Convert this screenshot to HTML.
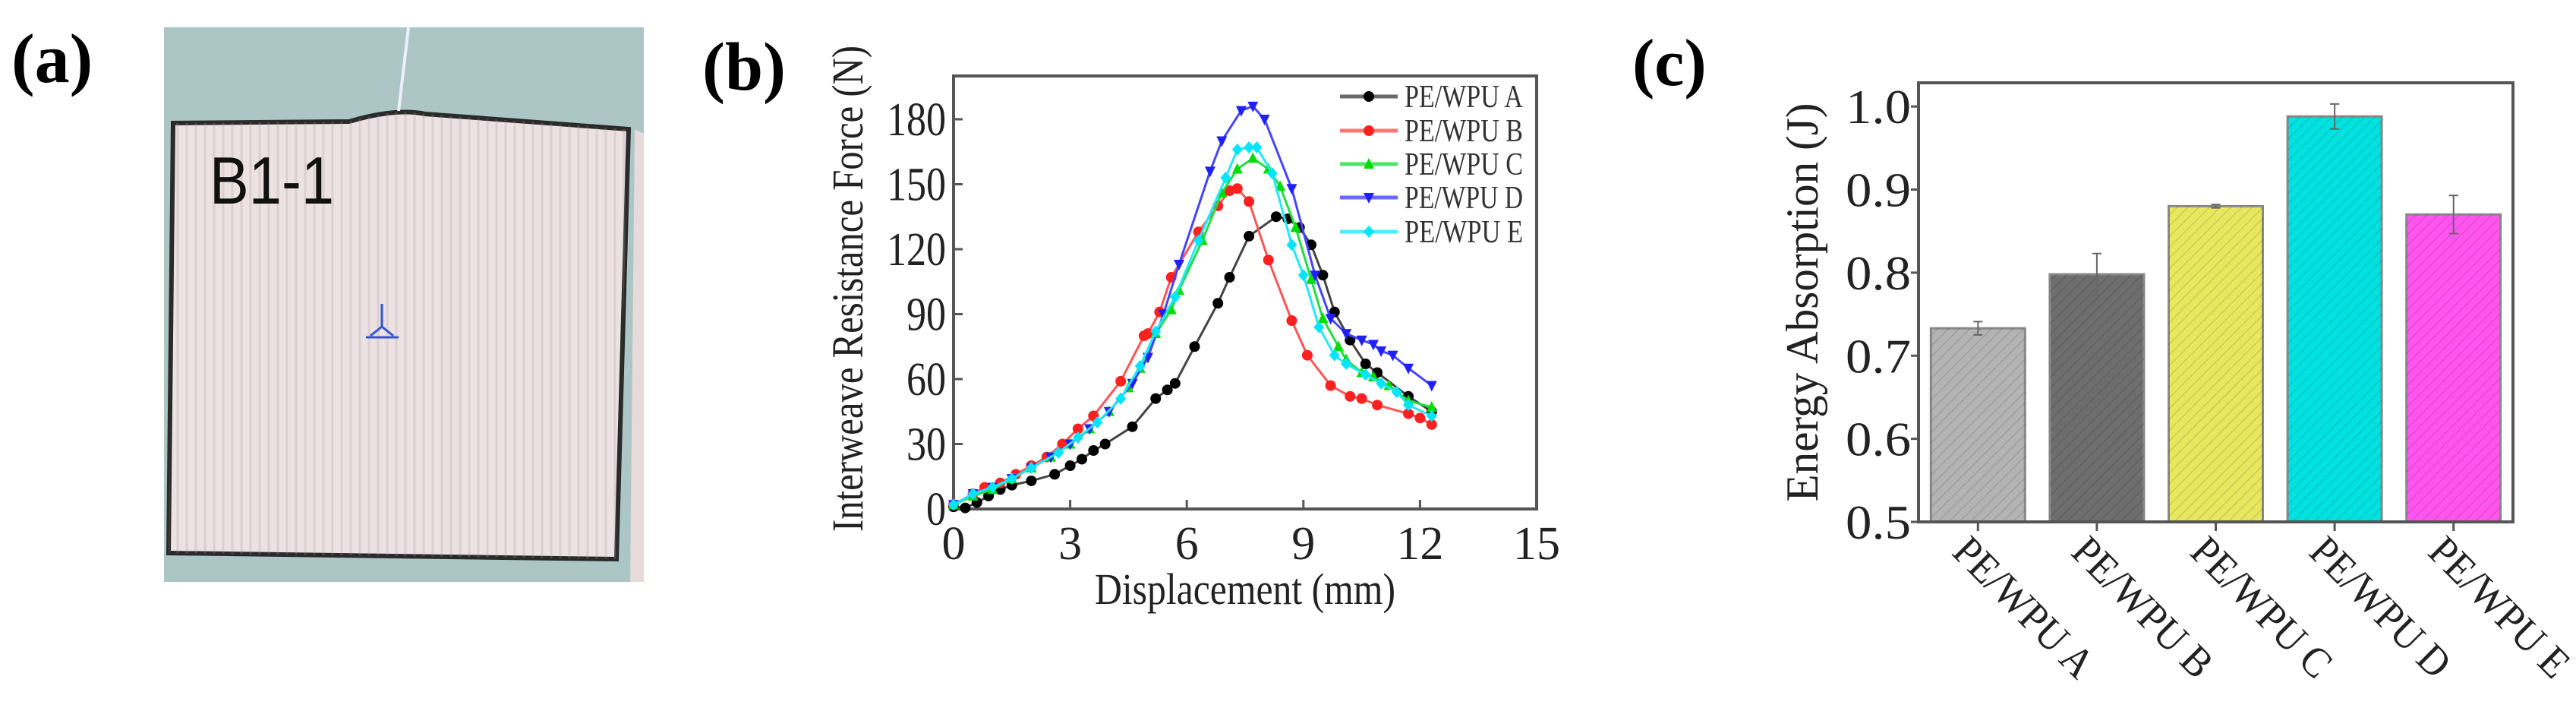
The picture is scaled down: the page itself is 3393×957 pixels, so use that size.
<!DOCTYPE html>
<html><head><meta charset="utf-8"><style>
html,body{margin:0;padding:0;background:#fff;}
svg{display:block;font-family:"Liberation Serif",serif;}
</style></head><body>
<svg id="fig" width="3393" height="957" viewBox="0 0 3393 957" xmlns="http://www.w3.org/2000/svg">
<defs>
<pattern id="hatch" width="10" height="10" patternUnits="userSpaceOnUse" patternTransform="rotate(45)">
<line x1="0" y1="0" x2="0" y2="10" stroke="rgba(0,0,0,0.12)" stroke-width="3"/>
</pattern>
<pattern id="stripes" width="12" height="10" patternUnits="userSpaceOnUse">
<line x1="6" y1="0" x2="6" y2="10" stroke="rgba(170,150,160,0.25)" stroke-width="3"/>
</pattern>
</defs>
<!-- panel a -->
<text x="15" y="108" font-size="92" font-weight="bold">(a)</text>
<g>
<rect x="216" y="36" width="632" height="730" fill="#abc6c4"/>
<path d="M228 162 L460 160 Q520 142 560 150 L828 170 L812 736 L222 728 Z" fill="#ece2e3" stroke="#2a2a2a" stroke-width="6"/>
<path d="M228 162 L460 160 Q520 142 560 150 L828 170 L812 736 L222 728 Z" fill="url(#stripes)"/>
<path d="M836 170 L848 176 L848 766 L830 766 Z" fill="#e6dadb"/>
<line x1="538" y1="36" x2="525" y2="146" stroke="#eef" stroke-width="4"/>
<text x="276" y="268" font-family="Liberation Sans, sans-serif" font-size="88" fill="#111" textLength="164" lengthAdjust="spacingAndGlyphs">B1-1</text>
<path d="M503 400 L503 430 M488 442 L503 430 L518 442 M482 444 L525 444" stroke="#3355cc" stroke-width="3" fill="none"/>
</g>
<!-- panel b -->
<text x="925" y="118" font-size="90" font-weight="bold">(b)</text>
<g id="chartB"></g>
<!-- panel c -->
<text x="2150" y="112" font-size="88" font-weight="bold">(c)</text>
<g id="chartC"></g>
</svg>
<script>
const NS="http://www.w3.org/2000/svg";
// ---- chart b data ----
const seriesNames=["PE/WPU A","PE/WPU B","PE/WPU C","PE/WPU D","PE/WPU E"];
const xTicksB=[0,3,6,9,12,15];
const yTicksB=[0,30,60,90,120,150,180];
const xA=[0,0.3,0.6,0.9,1.2,1.5,2.0,2.6,3.0,3.3,3.6,3.9,4.6,5.2,5.5,5.7,6.2,6.8,7.1,7.6,8.3,8.6,8.9,9.2,9.5,9.8,10.2,10.6,10.9,11.7,12.3];
const yA=[1,0.5,3,6,9,11,13,16,20,23,27,30,38,51,55,58,75,95,107,126,135,134,130,122,108,91,78,67,63,52,45];
const xB=[0,0.5,0.8,1.2,1.6,2.0,2.4,2.8,3.2,3.6,4.3,4.9,5.0,5.3,5.6,6.3,6.8,7.1,7.3,7.6,8.1,8.7,9.1,9.7,10.2,10.5,10.9,11.7,12.0,12.3];
const yB=[2,7,10,12,16,20,24,30,37,43,59,80,81,91,107,128,140,147,148,142,115,87,71,57,52,51,48,44,42,39];
const xC=[0,0.5,1.0,1.5,2.0,2.5,3.0,3.5,4.0,4.5,4.8,5.2,5.6,5.8,6.4,6.9,7.3,7.7,8.1,8.4,8.8,9.2,9.5,9.9,10.1,10.5,10.8,11.2,11.7,12.3];
const yC=[2,6,9,14,19,24,30,37,45,56,65,81,92,101,124,146,157,162,157,149,130,106,88,75,69,63,61,57,50,47];
const xD=[0,0.5,1.0,1.5,2.0,2.5,3.0,3.5,4.0,4.6,5.0,5.4,5.8,6.6,6.9,7.4,7.7,8.0,8.7,9.3,9.7,10.1,10.5,10.8,11.0,11.3,11.7,12.3];
const yD=[2,7,10,14,19,24,30,37,45,58,70,90,113,156,170,184,186,180,148,108,88,81,78,76,73,71,65,57];
const xE=[0,0.5,1.0,1.5,2.0,2.7,3.2,3.7,4.3,4.8,5.2,5.7,6.3,7.0,7.3,7.6,7.8,8.2,8.7,9.0,9.4,9.8,10.1,10.6,11.0,11.4,11.7,12.3];
const yE=[2,7,10,14,19,26,33,40,51,66,82,98,124,153,166,167,167,155,122,108,84,71,67,62,58,54,48,43];
// ---- chart c data ----
const categoriesC=["PE/WPU A","PE/WPU B","PE/WPU C","PE/WPU D","PE/WPU E"];
const energyValues=[0.733,0.798,0.880,0.988,0.870];
const energyErrors=[0.008,0.025,0.002,0.015,0.023];
const yTicksC=["0.5","0.6","0.7","0.8","0.9","1.0"];

function mk(tag,attrs,parent){const e=document.createElementNS(NS,tag);for(const k in attrs)e.setAttribute(k,attrs[k]);parent.appendChild(e);return e;}

// ===== Chart B =====
(function(){
const g=document.getElementById('chartB');
const L=1256,R=2024,T=100,B=670;
const sx=v=>L+(v-0)/(15-0)*(R-L);
const sy=v=>B-(v-0)/(200-0)*(B-T);
// ticks
xTicksB.forEach(t=>{
 const tk=mk('line',{x1:sx(t),x2:sx(t),y1:B,y2:B-12,stroke:'#555','stroke-width':3},g);
 
 
 const lb=mk('text',{x:sx(t),y:B+66,'font-size':62,'text-anchor':'middle',fill:'#222'},g);
 lb.textContent=t;
 
 
});
yTicksB.forEach(t=>{
 const tk=mk('line',{x1:L,x2:L+12,y1:sy(t),y2:sy(t),stroke:'#555','stroke-width':3},g);
 
 
 const lb=mk('text',{x:L-10,y:sy(t)+21,'font-size':62,'text-anchor':'end',fill:'#222',textLength:(String(t).length*26),lengthAdjust:'spacingAndGlyphs'},g);
 lb.textContent=t;
 
 
});
const fr=mk('rect',{x:L,y:T,width:R-L,height:B-T,fill:'none',stroke:'#555','stroke-width':4},g);


const yt=mk('text',{x:0,y:0,'font-size':58,'text-anchor':'middle',fill:'#222',transform:'translate(1136,380) rotate(-90)',textLength:640,lengthAdjust:'spacingAndGlyphs'},g);
yt.textContent='Interweave Resistance Force (N)';


const xt=mk('text',{x:1640,y:795,'font-size':58,'text-anchor':'middle',fill:'#222',textLength:396,lengthAdjust:'spacingAndGlyphs'},g);
xt.textContent='Displacement (mm)';



const xs=[xA,xB,xC,xD,xE], ys=[yA,yB,yC,yD,yE];
const colors=['#000000','#ff2020','#00dd00','#2020ff','#00e5ff'];
const lineColors=['#444','#ff5555','#22dd44','#4444ff','#22e8ff'];
const shapes=['circle','circle','tri-up','tri-down','diamond'];
const keys=['a','b','c','d','e'];
function marker(shape,x,y,c,parent,s){
 s=s||7;
 let e;
 if(shape==='circle') e=mk('circle',{cx:x,cy:y,r:s,fill:c},parent);
 else if(shape==='tri-up') e=mk('polygon',{points:`${x},${y-s-1} ${x-s},${y+s-1} ${x+s},${y+s-1}`,fill:c},parent);
 else if(shape==='tri-down') e=mk('polygon',{points:`${x},${y+s+1} ${x-s},${y-s+1} ${x+s},${y-s+1}`,fill:c},parent);
 else e=mk('polygon',{points:`${x},${y-s-1} ${x+s},${y} ${x},${y+s+1} ${x-s},${y}`,fill:c},parent);
 return e;
}
xs.forEach((xarr,i)=>{
 const sg=mk('g',{},g);
 
 
 const pts=xarr.map((x,j)=>sx(x)+','+sy(ys[i][j])).join(' ');
 const pl=mk('polyline',{points:pts,fill:'none',stroke:lineColors[i],'stroke-width':3},sg);
 
 
 xarr.forEach((x,j)=>{
  const m=marker(shapes[i],sx(x),sy(ys[i][j]),colors[i],sg);
  
  
 });
});
// legend
const legYs=[127,172,216,260,305];
seriesNames.forEach((n,i)=>{
 const lg=mk('g',{},g);
 
 
 mk('line',{x1:1765,x2:1841,y1:legYs[i],y2:legYs[i],stroke:lineColors[i],'stroke-width':5,opacity:0.8},lg);
 marker(shapes[i],1803,legYs[i],colors[i],lg,7);
 const t=mk('text',{x:1850,y:legYs[i]+14,'font-size':42,fill:'#333',textLength:156,lengthAdjust:'spacingAndGlyphs'},lg);
 t.textContent=n;
});
})();

// ===== Chart C =====
(function(){
const g=document.getElementById('chartC');
const L=2527,R=3310,T=109,B=687;
const ymin=0.5,ymax=1.0285;
const sx=i=>L+(i+1-0.5)/5*(R-L);
const sy=v=>B-(v-ymin)/(ymax-ymin)*(B-T);
const fills=['#b4b4b4','#6e6e6e','#e8e860','#00e2e0','#ff55ee'];
const bw=124;
yTicksC.forEach(t=>{
 const v=parseFloat(t);
 const tk=mk('line',{x1:L-10,x2:L,y1:sy(v),y2:sy(v),stroke:'#555','stroke-width':3},g);
 
 
 const lb=mk('text',{x:L-10,y:sy(v)+22,'font-size':64,'text-anchor':'end',fill:'#222',textLength:86,lengthAdjust:'spacingAndGlyphs'},g);
 lb.textContent=t;
 
 
});
categoriesC.forEach((c,i)=>{
 const x=sx(i), v=energyValues[i], e=energyErrors[i];
 const bar=mk('rect',{x:x-bw/2,y:sy(v),width:bw,height:B-sy(v),fill:fills[i],stroke:'#888','stroke-width':3},g);
 
 
 const h=mk('rect',{x:x-bw/2,y:sy(v),width:bw,height:B-sy(v),fill:'url(#hatch)'},g);
 
 
 const eb=mk('path',{d:`M${x} ${sy(v+e)} L${x} ${sy(v-e)} M${x-6} ${sy(v+e)} L${x+6} ${sy(v+e)} M${x-6} ${sy(v-e)} L${x+6} ${sy(v-e)}`,stroke:'#666','stroke-width':2,fill:'none'},g);
 
 
 const tk=mk('line',{x1:x,x2:x,y1:B,y2:B+12,stroke:'#555','stroke-width':3},g);
 
 
 const lb=mk('text',{x:0,y:0,'font-size':56,fill:'#222',transform:`translate(${x-36},${B+42}) rotate(45)`,textLength:236,lengthAdjust:'spacingAndGlyphs'},g);
 lb.textContent=c;
 
 
});
const fr=mk('rect',{x:L,y:T,width:R-L,height:B-T,fill:'none',stroke:'#555','stroke-width':4},g);


const yt=mk('text',{x:0,y:0,'font-size':60,'text-anchor':'middle',fill:'#222',transform:'translate(2394,398) rotate(-90)',textLength:525,lengthAdjust:'spacingAndGlyphs'},g);
yt.textContent='Energy Absorption (J)';


})();
</script>
</body></html>
